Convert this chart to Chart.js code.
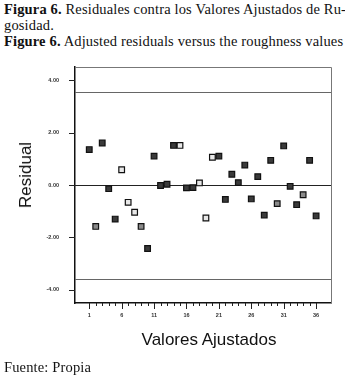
<!DOCTYPE html>
<html>
<head>
<meta charset="utf-8">
<script src="https://cdn.jsdelivr.net/npm/chart.js@4.4.0/dist/chart.umd.min.js"></script>
<style>
  html, body { margin: 0; padding: 0; background: #fff; }
  #wrap { position: relative; width: 345px; height: 376px; overflow: hidden; }
  #chart { position: absolute; left: 0; top: 0; }
  .cap { position: absolute; left: 4px; font-family: "Liberation Serif", serif; font-size: 14.5px; letter-spacing: 0.15px; color: #111; white-space: nowrap; }
  .axt { position: absolute; font-family: "Liberation Sans", Arial, sans-serif; font-size: 17px; color: #111; white-space: nowrap; }
</style>
</head>
<body>
<div id="wrap">
  <div class="cap" style="top:1px"><b>Figura 6.</b> Residuales contra los Valores Ajustados de Ru-</div>
  <div class="cap" style="top:17px">gosidad.</div>
  <div class="cap" style="top:33px"><b>Figure 6.</b> Adjusted residuals versus the roughness values</div>
  <canvas id="chart" width="345" height="376"></canvas>
  <div class="axt" id="ytitle" style="left:26px; top:175px; transform: translate(-50%,-50%) rotate(-90deg);">Residual</div>
  <div class="axt" style="left:209px; top:340px; transform: translate(-50%,-50%);">Valores Ajustados</div>
  <div class="cap" style="top:359px">Fuente: Propia</div>
</div>
<script>
// observation number 1..36
const observations = [1,2,3,4,5,6,7,8,9,10,11,12,13,14,15,16,17,18,19,20,21,22,23,24,25,26,27,28,29,30,31,32,33,34,35,36];
// residuals
const residuals = [1.35,-1.58,1.6,-0.14,-1.3,0.58,-0.66,-1.04,-1.58,-2.42,1.1,-0.02,0.03,1.51,1.51,-0.11,-0.1,0.08,-1.26,1.06,1.1,-0.55,0.41,0.09,0.76,-0.53,0.32,-1.15,0.94,-0.71,1.49,-0.05,-0.75,-0.37,0.94,-1.18];
// marker shade per point (0 dark .. 2 light)
const shade = [0,1,0,0,0,2,2,2,1,0,0,0,0,0,2,0,0,2,2,2,0,0,0,0,0,0,0,0,0,1,0,0,0,1,0,0];
const yTicks = [-4, -2, 0, 2, 4];
const xLabelEvery = 5;
const limitUpper = 3.55;
const limitLower = -3.57;

const shadeFill = ['#3a3a3a', '#8a8a8a', '#e8e8e8'];
const points = observations.map((x, i) => ({ x: x, y: residuals[i] }));

const framePlugin = {
  id: 'frame',
  beforeDatasetsDraw(chart) {
    const { ctx, chartArea: a, scales: { x, y } } = chart;
    ctx.save();
    // top and right frame
    ctx.strokeStyle = '#777';
    ctx.lineWidth = 1;
    ctx.beginPath();
    ctx.moveTo(a.left, a.top + 0.5); ctx.lineTo(a.right + 0.5, a.top + 0.5);
    ctx.lineTo(a.right + 0.5, a.bottom);
    ctx.stroke();
    // limit lines
    ctx.strokeStyle = '#666';
    [limitUpper, limitLower].forEach(v => {
      const py = Math.round(y.getPixelForValue(v)) + 0.5;
      ctx.beginPath(); ctx.moveTo(a.left, py); ctx.lineTo(a.right, py); ctx.stroke();
    });
    // zero line
    ctx.strokeStyle = '#222';
    const p0 = Math.round(y.getPixelForValue(0)) + 0.5;
    ctx.beginPath(); ctx.moveTo(a.left, p0); ctx.lineTo(a.right, p0); ctx.stroke();
    // tick marks
    ctx.strokeStyle = '#222';
    x.ticks.forEach(t => {
      const px = Math.round(x.getPixelForValue(t.value)) + 0.5;
      const len = (t.value - 1) % xLabelEvery === 0 ? 6 : 3;
      ctx.beginPath(); ctx.moveTo(px, a.bottom); ctx.lineTo(px, a.bottom + len); ctx.stroke();
    });
    y.ticks.forEach(t => {
      const py = Math.round(y.getPixelForValue(t.value)) + 0.5;
      ctx.beginPath(); ctx.moveTo(a.left - 6, py); ctx.lineTo(a.left, py); ctx.stroke();
    });
    ctx.restore();
  }
};

new Chart(document.getElementById('chart'), {
  type: 'scatter',
  data: {
    datasets: [{
      data: points,
      pointStyle: 'rect',
      pointRadius: 4,
      pointHoverRadius: 4,
      pointBorderWidth: 1.2,
      pointBorderColor: '#111',
      pointBackgroundColor: shade.map(s => shadeFill[s])
    }]
  },
  options: {
    responsive: false,
    animation: false,
    layout: { padding: { left: 0, top: 67, right: 14, bottom: 0 } },
    plugins: { legend: { display: false }, tooltip: { enabled: false } },
    scales: {
      x: {
        type: 'linear',
        min: -1.2,
        max: 38.3,
        afterFit(s) { s.height = 73; },
        afterBuildTicks(s) { s.ticks = observations.map(v => ({ value: v })); },
        grid: { display: false, drawTicks: false },
        border: { display: true, color: '#111', width: 1.5 },
        ticks: {
          autoSkip: false,
          maxRotation: 0,
          padding: 9,
          color: '#333',
          font: { family: 'Liberation Sans', size: 5.5, weight: 'bold' },
          callback: v => ((v - 1) % xLabelEvery === 0 ? String(v) : '')
        }
      },
      y: {
        min: -4.5,
        max: 4.5,
        afterFit(s) { s.width = 75; },
        afterBuildTicks(s) { s.ticks = yTicks.map(v => ({ value: v })); },
        grid: { display: false, drawTicks: false },
        border: { display: true, color: '#111', width: 1.5 },
        ticks: {
          padding: 16,
          color: '#333',
          font: { family: 'Liberation Sans', size: 5.5, weight: 'bold' },
          callback: v => v.toFixed(2)
        }
      }
    }
  },
  plugins: [framePlugin]
});
</script>
</body>
</html>
